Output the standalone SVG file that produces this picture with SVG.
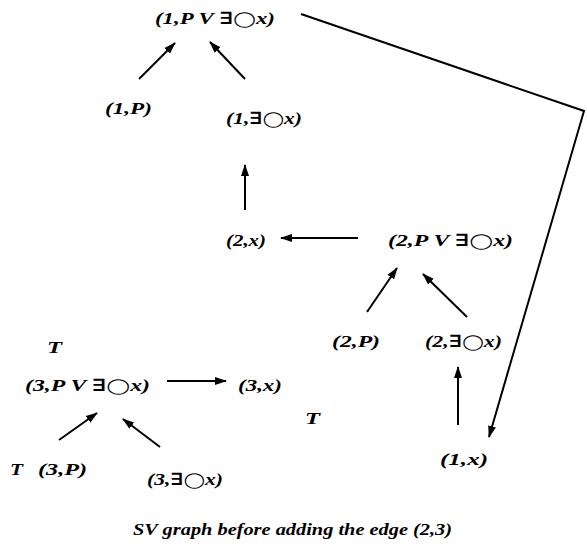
<svg xmlns="http://www.w3.org/2000/svg" width="587" height="554" viewBox="0 0 587 554">
<style>
text{font-family:"Liberation Serif","DejaVu Serif",serif;font-weight:bold;font-style:italic;font-size:17px;fill:#000}
.c{font-family:"DejaVu Sans",sans-serif;font-style:normal;font-weight:normal;font-size:15px}
.e{stroke:#000;stroke-width:2;fill:none}
</style>
<defs>
<marker id="ah" viewBox="0 0 12 10" refX="11" refY="5" markerWidth="6" markerHeight="5" orient="auto" markerUnits="strokeWidth">
<path d="M0,1 L12,5 L0,9 z" fill="#000"/>
</marker>
</defs>
<rect width="587" height="554" fill="#fff"/>
<g id="connectors">
<line class="e" x1="139" y1="79" x2="175" y2="43" marker-end="url(#ah)"/>
<line class="e" x1="245" y1="79" x2="210" y2="42" marker-end="url(#ah)"/>
<line class="e" x1="245" y1="210" x2="245" y2="165" marker-end="url(#ah)"/>
<line class="e" x1="358" y1="238" x2="281" y2="238" marker-end="url(#ah)"/>
<line class="e" x1="367" y1="312" x2="397" y2="268" marker-end="url(#ah)"/>
<line class="e" x1="467" y1="317" x2="423" y2="274" marker-end="url(#ah)"/>
<line class="e" x1="458" y1="425" x2="458" y2="367" marker-end="url(#ah)"/>
<polyline class="e" points="301,14 584,111 489,437" marker-end="url(#ah)"/>
<line class="e" x1="167" y1="381" x2="226" y2="381" marker-end="url(#ah)"/>
<line class="e" x1="59" y1="440" x2="97" y2="413" marker-end="url(#ah)"/>
<line class="e" x1="160" y1="447" x2="123" y2="419" marker-end="url(#ah)"/>
</g>
<g id="n1"><text x="155" y="24" textLength="120" lengthAdjust="spacingAndGlyphs">(1,P  V ∃<tspan class="c">◯</tspan>x)</text></g>
<g id="n2"><text x="105" y="114" textLength="47" lengthAdjust="spacingAndGlyphs">(1,P)</text></g>
<g id="n3"><text x="226" y="124" textLength="76" lengthAdjust="spacingAndGlyphs">(1,∃<tspan class="c">◯</tspan>x)</text></g>
<g id="n4"><text x="226" y="246" textLength="40" lengthAdjust="spacingAndGlyphs">(2,x)</text></g>
<g id="n5"><text x="388" y="246" textLength="125" lengthAdjust="spacingAndGlyphs">(2,P  V ∃<tspan class="c">◯</tspan>x)</text></g>
<g id="n6"><text x="332" y="347" textLength="48" lengthAdjust="spacingAndGlyphs">(2,P)</text></g>
<g id="n7"><text x="425" y="347" textLength="77" lengthAdjust="spacingAndGlyphs">(2,∃<tspan class="c">◯</tspan>x)</text></g>
<g id="n8"><text x="440" y="465" textLength="48" lengthAdjust="spacingAndGlyphs">(1,x)</text></g>
<g id="t1"><text x="47" y="353" textLength="15" lengthAdjust="spacingAndGlyphs">T</text></g>
<g id="n9"><text x="25" y="391" textLength="125" lengthAdjust="spacingAndGlyphs">(3,P  V ∃<tspan class="c">◯</tspan>x)</text></g>
<g id="n10"><text x="238" y="391" textLength="44" lengthAdjust="spacingAndGlyphs">(3,x)</text></g>
<g id="t2"><text x="305" y="424" textLength="15" lengthAdjust="spacingAndGlyphs">T</text></g>
<g id="t3"><text x="10" y="475" textLength="13" lengthAdjust="spacingAndGlyphs">T</text></g>
<g id="n11"><text x="38" y="475" textLength="49" lengthAdjust="spacingAndGlyphs">(3,P)</text></g>
<g id="n12"><text x="147" y="485" textLength="76" lengthAdjust="spacingAndGlyphs">(3,∃<tspan class="c">◯</tspan>x)</text></g>
<text x="133" y="535" textLength="319" lengthAdjust="spacingAndGlyphs">SV graph before adding the edge (2,3)</text>
</svg>
